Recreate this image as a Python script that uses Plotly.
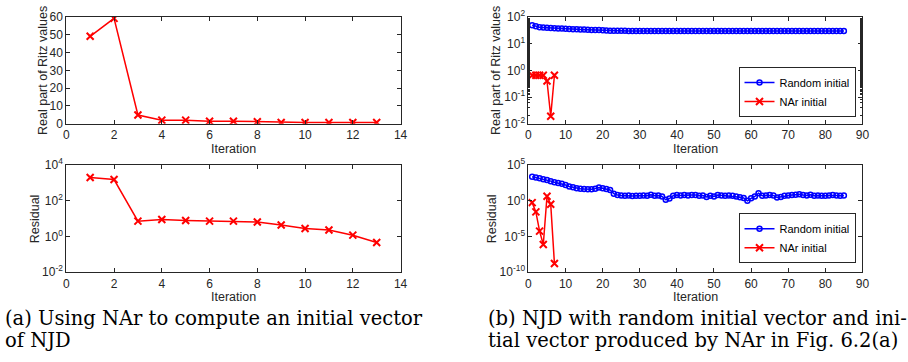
import plotly.graph_objects as go

# ---------------- data ----------------
iter_a = [1, 2, 3, 4, 5, 6, 7, 8, 9, 10, 11, 12, 13]
ritz_a = [49.2, 59.3, 4.9, 2.0, 2.0, 1.4, 1.4, 1.1, 0.7, 0.7, 0.7, 0.7, 0.7]
resid_a = [2000, 1550, 7.2, 8.9, 7.9, 7.2, 7.2, 6.4, 4.4, 2.8, 2.3, 1.18, 0.46]

iter_rand = list(range(1, 86))
ritz_rand = [50, 45, 42, 41, 40, 39, 38, 37.5, 37, 36.5,
             36, 35, 35, 34.5, 34, 33.5, 33, 33, 32.5, 32,
             31.5, 31, 30.8, 30.6, 30.5, 30.5, 30.4, 30.4, 30.3, 30.3,
             30.3, 30.2, 30.2, 30.2, 30.2, 30.1, 30.1, 30.1, 30.1, 30.1,
             30.0, 30.0, 30.0, 30.0, 30.0, 30.0, 30.0, 30.0, 30.0, 30.0,
             30.0, 30.0, 30.0, 30.0, 30.0, 30.0, 30.0, 30.0, 30.0, 30.0,
             30.0, 30.0, 30.0, 30.0, 30.0, 30.0, 30.0, 30.0, 30.0, 30.0,
             30.0, 30.0, 30.0, 30.0, 30.0, 30.0, 30.0, 30.0, 30.0, 30.0,
             30.0, 30.0, 30.0, 30.0, 30.0]
resid_rand = [2240, 1780, 1410, 1000, 794, 562, 398, 316, 251, 158,
              100, 79, 56, 50, 45, 40, 40, 50, 71, 56,
              45, 32, 10, 6.3, 5.6, 5.0, 5.6, 4.5, 5.0, 5.0,
              5.6, 5.0, 7.1, 5.0, 5.6, 4.0, 1.4, 2.0, 5.0, 6.3,
              5.6, 6.3, 5.6, 6.3, 6.3, 5.0, 5.6, 3.5, 5.0, 4.0,
              6.3, 5.6, 5.0, 5.6, 5.0, 4.0, 3.2, 2.5, 1.0, 2.2,
              4.0, 11.2, 5.0, 5.6, 6.3, 5.6, 2.8, 3.5, 5.0, 5.6,
              6.3, 7.1, 7.9, 6.3, 5.6, 7.1, 5.0, 5.6, 5.0, 5.0,
              5.6, 6.3, 5.6, 5.0, 5.6]

iter_nar = [1, 2, 3, 4, 5, 6, 7]
ritz_nar = [0.66, 0.66, 0.66, 0.66, 0.40, 0.019, 0.66]
resid_nar = [0.55, 0.028, 5.5e-5, 7.4e-7, 4.3, 0.33, 1.6e-9]

caption_a = ["(a) Using NAr to compute an initial vector", "of NJD"]
caption_b = ["(b) NJD with random initial vector and ini-",
             "tial vector produced by NAr in Fig. 6.2(a)"]

# ---------------- style ----------------
W, H = 908, 362
RED, BLUE, AX = "#ff0000", "#0000ff", "#262626"
SANS = "Liberation Sans, Arial, sans-serif"
SERIF = "DejaVu Serif, serif"

def px_x(p):
    return p / W

def px_y(p):
    return 1 - p / H

fig = go.Figure()

red_marker = dict(symbol="x-thin", size=7, color=RED, line=dict(width=2, color=RED))
blue_marker = dict(symbol="circle-open", size=5, color=BLUE, line=dict(width=1.5, color=BLUE))

fig.add_trace(go.Scatter(x=iter_a, y=ritz_a, mode="lines+markers", line=dict(color=RED, width=1.5),
                         marker=red_marker, xaxis="x", yaxis="y", showlegend=False))
fig.add_trace(go.Scatter(x=iter_a, y=resid_a, mode="lines+markers", line=dict(color=RED, width=1.5),
                         marker=red_marker, xaxis="x2", yaxis="y2", showlegend=False))
fig.add_trace(go.Scatter(x=iter_rand, y=ritz_rand, mode="lines+markers", name="Random initial",
                         line=dict(color=BLUE, width=1.5), marker=blue_marker,
                         xaxis="x3", yaxis="y3", legend="legend"))
fig.add_trace(go.Scatter(x=iter_nar, y=ritz_nar, mode="lines+markers", name="NAr initial",
                         line=dict(color=RED, width=1.5), marker=red_marker,
                         xaxis="x3", yaxis="y3", legend="legend"))
fig.add_trace(go.Scatter(x=iter_rand, y=resid_rand, mode="lines+markers", name="Random initial",
                         line=dict(color=BLUE, width=1.5), marker=blue_marker,
                         xaxis="x4", yaxis="y4", legend="legend2"))
fig.add_trace(go.Scatter(x=iter_nar, y=resid_nar, mode="lines+markers", name="NAr initial",
                         line=dict(color=RED, width=1.5), marker=red_marker,
                         xaxis="x4", yaxis="y4", legend="legend2"))

common = dict(showline=True, linecolor=AX, linewidth=1, mirror="allticks", ticks="inside",
              ticklen=4, tickcolor=AX, showgrid=False, zeroline=False,
              tickfont=dict(family=SANS, size=12, color=AX))

def logticks(exps):
    return [10.0 ** e for e in exps], ["10<sup>%d</sup>" % e for e in exps]

xa_dom = [px_x(64), px_x(402)]
xb_dom = [px_x(531.3), px_x(869)]
top_dom = [px_y(120), px_y(8.5)]
bot_dom = [px_y(275.3), px_y(163.3)]

tv2, tt2 = logticks([-2, 0, 2, 4])
tv3, tt3 = logticks([-2, -1, 0, 1, 2])
tv4, tt4 = logticks([-10, -5, 0, 5])

legend_style = dict(xanchor="right", yanchor="bottom", bgcolor="white", bordercolor=AX,
                    borderwidth=1, itemwidth=30, tracegroupgap=0,
                    font=dict(family=SANS, size=11, color="black"))

fig.update_layout(
    width=W, height=H, margin=dict(l=0, r=0, t=0, b=0),
    paper_bgcolor="white", plot_bgcolor="white",
    xaxis=dict(domain=xa_dom, range=[0, 14], dtick=2, anchor="y", **common),
    yaxis=dict(domain=top_dom, range=[0, 60], dtick=10, anchor="x", **common),
    xaxis2=dict(domain=xa_dom, range=[0, 14], dtick=2, anchor="y2", **common),
    yaxis2=dict(domain=bot_dom, type="log", range=[-2, 4], tickvals=tv2, ticktext=tt2,
                anchor="x2", **common),
    xaxis3=dict(domain=xb_dom, range=[0, 90], dtick=10, anchor="y3", **common),
    yaxis3=dict(domain=top_dom, type="log", range=[-2, 2], tickvals=tv3, ticktext=tt3,
                anchor="x3", minor=dict(ticks="inside", ticklen=2, tickcolor=AX), **common),
    xaxis4=dict(domain=xb_dom, range=[0, 90], dtick=10, anchor="y4", **common),
    yaxis4=dict(domain=bot_dom, type="log", range=[-10, 5], tickvals=tv4, ticktext=tt4,
                anchor="x4", **common),
    legend=dict(x=px_x(862), y=px_y(113), **legend_style),
    legend2=dict(x=px_x(862), y=px_y(266), **legend_style),
)

ann = []
def title(text, x, y, angle=0):
    ann.append(dict(text=text, x=px_x(x), y=px_y(y), xref="paper", yref="paper",
                    showarrow=False, textangle=angle, xanchor="center", yanchor="middle",
                    font=dict(family=SANS, size=12.5, color=AX)))

title("Real part of Ritz values", 41, 64.3, -90)
title("Residual", 32, 219.3, -90)
title("Real part of Ritz values", 499, 64.3, -90)
title("Residual", 494, 219.3, -90)
title("Iteration", 233, 146)
title("Iteration", 233, 301)
title("Iteration", 700, 146)
title("Iteration", 700, 301)

def cap(text, x, y):
    ann.append(dict(text=text, x=px_x(x), y=px_y(y), xref="paper", yref="paper",
                    showarrow=False, xanchor="left", yanchor="middle",
                    font=dict(family=SERIF, size=19.5, color="black")))

cap(caption_a[0], 0, 324)
cap(caption_a[1], 0, 347)
cap(caption_b[0], 488, 324)
cap(caption_b[1], 488, 347)

fig.update_layout(annotations=ann)
fig.write_html("out.html")
